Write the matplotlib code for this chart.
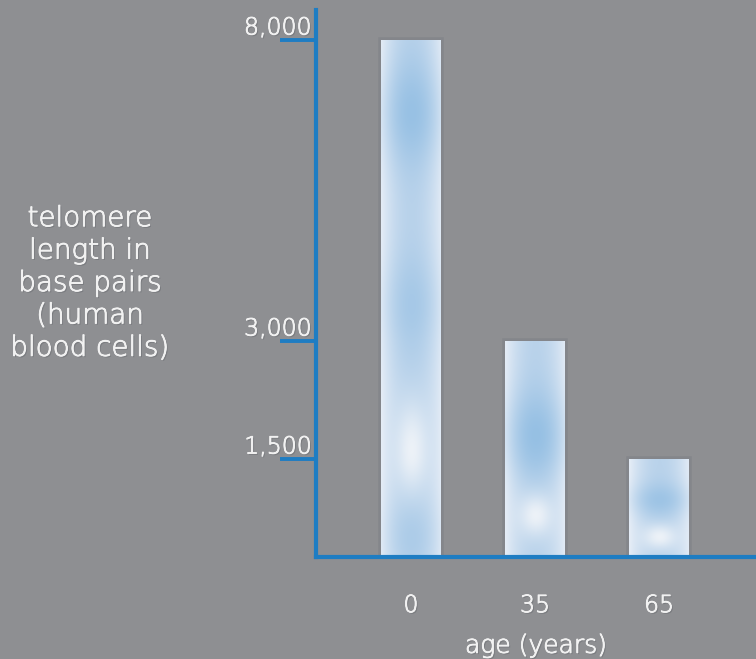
import numpy as np
import matplotlib.pyplot as plt
import matplotlib.patheffects as pe
from matplotlib.transforms import ScaledTranslation

# telomere length by age
ages = ['0', '35', '65']
lengths = [8000, 3000, 1500]
ytick_values = [1500, 3000, 8000]
ytick_labels = ['1,500', '3,000', '8,000']

# the axis is drawn as an illustration, not to a linear scale
SCALE_VALUES = [0, 1500, 3000, 8000, 10000]
SCALE_POS = [0, 98, 216, 517, 637]

BG = '#8e8f92'
BLUE = '#1e7dc3'
TXT = '#f2f2f2'

plt.rcParams['font.family'] = ['DejaVu Sans']

# soft drop shadow plus a slightly thicker stroke for the thin lettering
text_fx = [pe.withSimplePatchShadow(offset=(1, -1), shadow_rgbFace='#55585e', alpha=0.35),
           pe.withStroke(linewidth=0.6, foreground=TXT)]


def fwd(v):
    return np.interp(v, SCALE_VALUES, SCALE_POS)


def inv(p):
    return np.interp(p, SCALE_POS, SCALE_VALUES)


def bar_texture(blobs, glow, ny=240, nx=60):
    u = np.linspace(-1, 1, nx)[None, :]
    t = np.linspace(0, 1, ny)[:, None]
    edge = np.array([228, 236, 246]) / 255
    mid = np.array([186, 211, 235]) / 255
    dark = np.array([146, 190, 227]) / 255
    white = np.array([242, 245, 249]) / 255
    h = np.clip(1 - np.abs(u) ** 2.0, 0, 1)
    img = edge + (mid - edge) * h[..., None]
    for c, s, a in blobs:
        w = a * np.exp(-((t - c) / s) ** 2) * np.exp(-(u / 0.85) ** 2)
        img = img + (dark - img) * w[..., None]
    c, s = glow
    g = 0.9 * np.exp(-((t - c) / s) ** 2 - (u / 0.6) ** 2)
    img = img + (white - img) * g[..., None]
    return np.clip(img, 0, 1)


textures = [
    bar_texture([(0.85, 0.11, 0.85), (0.45, 0.1, 0.5), (0.04, 0.07, 0.35)], (0.2, 0.08)),
    bar_texture([(0.6, 0.19, 0.9)], (0.21, 0.11)),
    bar_texture([(0.58, 0.17, 0.7)], (0.2, 0.13)),
]

fig = plt.figure(figsize=(7.56, 6.59), dpi=100, facecolor=BG)
ax = fig.add_axes([316 / 756, 102 / 659, 440 / 756, 547 / 659])
ax.set_facecolor(BG)
ax.set_yscale('function', functions=(fwd, inv))

x = np.arange(len(ages))
width = 0.49
bars = ax.bar(x, lengths, width=width, color='#c4d8ec', zorder=2,
              path_effects=[pe.withStroke(linewidth=4, foreground='#6f737b', alpha=0.3)])
for xi, val, rect, tex in zip(x, lengths, bars, textures):
    im = ax.imshow(tex, extent=(xi - width / 2, xi + width / 2, 0, val),
                   origin='lower', aspect='auto', interpolation='bilinear', zorder=3)
    im.set_clip_path(rect)

ax.set_xlim(-0.766, 2.782)
ax.set_ylim(0, inv(547))

for side in ['top', 'right']:
    ax.spines[side].set_visible(False)
for side in ['left', 'bottom']:
    ax.spines[side].set_color(BLUE)
    ax.spines[side].set_linewidth(3)
    ax.spines[side].set_zorder(4)

ax.set_yticks(ytick_values)
ax.set_yticklabels(ytick_labels, fontweight='light')
ax.tick_params(axis='y', direction='out', length=26, width=2.8, color=BLUE,
               labelcolor=TXT, labelsize=17, pad=-23)
shift = ScaledTranslation(0, 15 / 100, fig.dpi_scale_trans)
for lab in ax.get_yticklabels():
    lab.set_transform(lab.get_transform() + shift)
    lab.set_path_effects(text_fx)

ax.set_xticks(x)
ax.set_xticklabels(ages, fontweight='light')
ax.tick_params(axis='x', length=0, labelcolor=TXT, labelsize=17, pad=26)
for lab in ax.get_xticklabels():
    lab.set_path_effects(text_fx)

ax.set_xlabel('age (years)', color=TXT, fontsize=18, fontweight='light', labelpad=12,
              path_effects=text_fx)

fig.text(90 / 756, 1 - 283 / 659, 'telomere\nlength in\nbase pairs\n(human\nblood cells)',
         color=TXT, fontsize=20, fontweight='light', ha='center', va='center',
         linespacing=1.2, path_effects=text_fx)

fig.savefig('out.png', dpi=100, facecolor=BG)
